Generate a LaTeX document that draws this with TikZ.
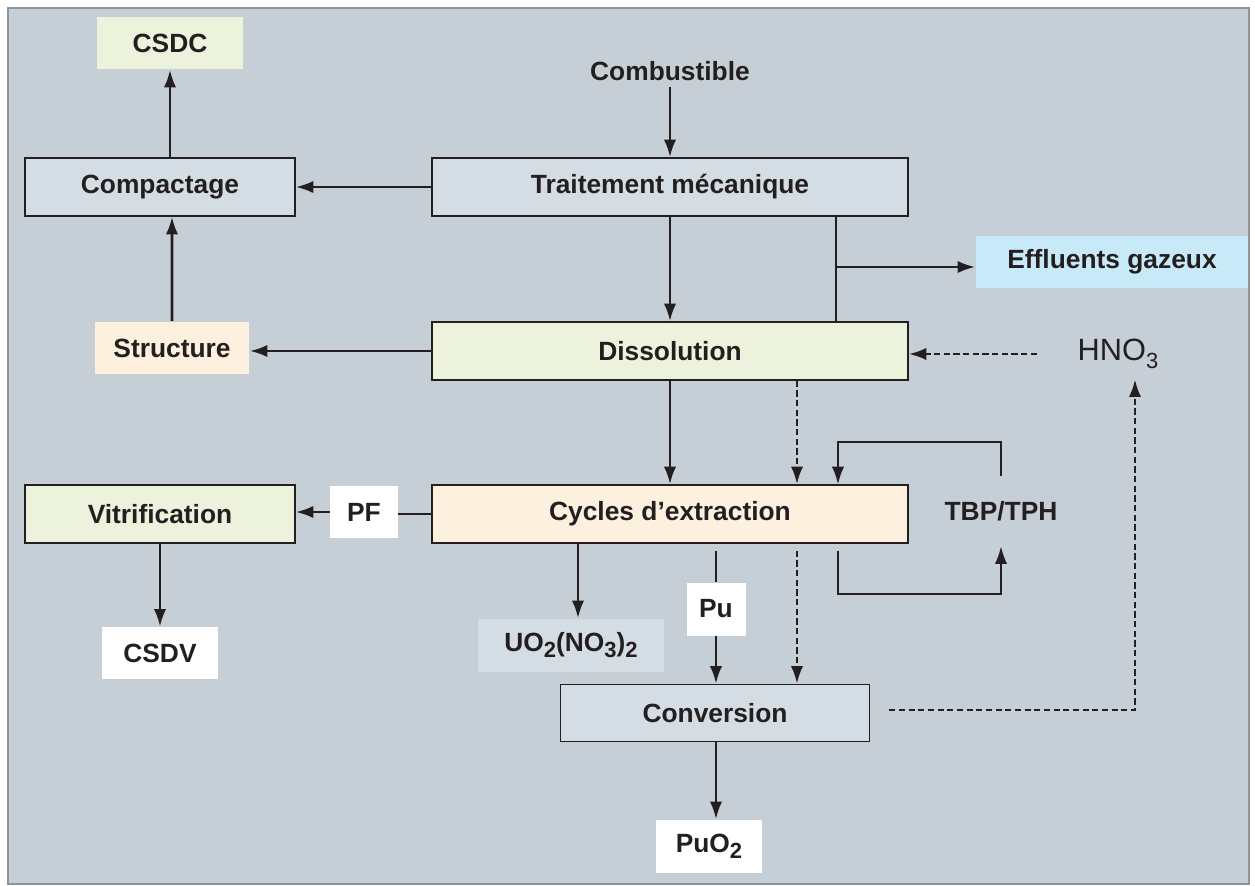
\documentclass[tikz,border=0pt]{standalone}
\usepackage{fontspec}
\setmainfont{Liberation Sans}
\usetikzlibrary{arrows.meta}

\definecolor{bgcol}{RGB}{199,207,214}
\definecolor{framecol}{RGB}{140,149,156}
\definecolor{linecol}{RGB}{35,31,32}
\definecolor{greycol}{RGB}{213,221,228}
\definecolor{greencol}{RGB}{236,242,220}
\definecolor{peachcol}{RGB}{253,240,222}
\definecolor{bluecol}{RGB}{200,234,248}

\newcommand{\chemsub}[1]{\raisebox{-0.45ex}{\fontsize{12.5}{12.5}\selectfont #1}}

\begin{document}
\begin{tikzpicture}[x=0.02cm, y=-0.02cm, >={Latex[length=10pt,width=7pt]},
    font=\fontsize{15}{18}\selectfont\bfseries, text=linecol,
    box/.style={draw=linecol, line width=0.9pt, minimum height=1.16cm, inner sep=0pt},
    tag/.style={minimum height=1.06cm, inner sep=0pt},
    flow/.style={line width=1.5pt, draw=linecol},
    dflow/.style={flow, dash pattern=on 3.5pt off 2pt},
    loop/.style={line width=1pt, draw=linecol}]

    % Background and frame
    \fill[white] (0,0) rectangle (1255,886);
    \draw[fill=bgcol, draw=framecol, line width=1pt] (8,8) rectangle (1249,884);

    % Define process boxes
    \node[box, fill=greycol, minimum width=5.4cm] (comp) at (160,187) {Compactage};
    \node[box, fill=greycol, minimum width=9.52cm] (trait) at (670,187) {Traitement mécanique};
    \node[box, fill=greencol, minimum width=9.52cm] (diss) at (670,351) {Dissolution};
    \node[box, fill=peachcol, minimum width=9.52cm] (cyc) at (670,514) {Cycles d’extraction};
    \node[box, fill=greencol, minimum width=5.4cm] (vitr) at (160,514) {Vitrification};
    \node[box, fill=greycol, minimum width=6.18cm, minimum height=1.14cm] (conv) at (715,713) {Conversion};

    % Define products and reagents
    \node[tag, fill=greencol, minimum width=2.92cm] (csdc) at (170,43) {CSDC};
    \node (comb) at (670,71) {Combustible};
    \node[tag, fill=bluecol, minimum width=5.46cm] (effl) at (1112,262) {Effluents gazeux};
    \node[tag, fill=peachcol, minimum width=3.1cm] (struc) at (172,348) {Structure};
    \node[font=\fontsize{17.5}{20}\selectfont, inner sep=6pt] (hno) at (1118,354) {HNO\chemsub{3}};
    \node[tag, fill=white, minimum width=1.36cm, minimum height=1.04cm] (pf) at (364,512) {PF};
    \node[minimum height=1.4cm, inner sep=0pt] (tbp) at (1001,511) {TBP/TPH};
    \node[tag, fill=white, minimum width=2.34cm, minimum height=1.04cm] (csdv) at (160,653) {CSDV};
    \node[tag, fill=greycol, minimum width=3.74cm] (uo) at (571,645) {UO\chemsub{2}(NO\chemsub{3})\chemsub{2}};
    \node[tag, fill=white, minimum width=1.18cm] (pu) at (716,609) {Pu};
    \node[tag, fill=white, minimum width=2.12cm] (puo) at (709,846) {PuO\chemsub{2}};

    % Bend points
    \coordinate (tap) at (836,267);
    \coordinate (dcol) at (797,0);
    \coordinate (ucol) at (578,0);
    \coordinate (topT) at (838,442);
    \coordinate (botT) at (838,594);
    \coordinate (ret) at (1135,710);

    % Main line
    \draw[flow, ->] (comb) -- (trait);
    \draw[flow, ->] (trait) -- (diss);
    \draw[flow, ->] (diss) -- (cyc);
    \draw[flow, ->] (trait) -- (comp);
    \draw[flow, ->] (comp.north -| csdc) -- (csdc);
    \draw[flow, ->] (diss.west) -- (diss.west -| struc.east);
    \draw[flow, ->] (struc.north -| comp) ++(12,0) -- ([xshift=0.24cm]comp.south);

    % Gaseous effluents
    \draw[flow] (trait.south -| tap) -- (diss.north -| tap);
    \draw[flow, ->] (tap) -- (tap -| effl.west);

    % Nitric acid
    \draw[dflow, ->, shorten <=0.6cm] (hno.west) -- (hno.west -| diss.east);
    \draw[dflow, ->] (diss.south -| dcol) -- (cyc.north -| dcol);

    % Solvent loop
    \draw[loop, ->] (tbp.north) |- (topT) -- (topT |- cyc.north);
    \draw[loop, ->] ([yshift=-0.14cm]cyc.south -| botT) -- (botT) -| (tbp.south);

    % Outputs of extraction
    \draw[flow] (cyc.west) -- (cyc.west -| pf.east);
    \draw[flow, ->] (pf.west) -- (pf.west -| vitr.east);
    \draw[flow, ->] (vitr) -- (csdv);
    \draw[flow, ->] (cyc.south -| ucol) -- (uo.north -| ucol);
    \draw[flow] ([yshift=-0.14cm]cyc.south -| pu) -- (pu);
    \draw[flow, ->] (pu) -- (pu |- conv.north);
    \draw[dflow, ->] ([yshift=-0.14cm]cyc.south -| dcol) -- (conv.north -| dcol);

    % Conversion
    \draw[flow, ->] (conv.south -| pu) -- (pu |- puo.north);
    \draw[dflow, ->, shorten <=0.38cm] (conv.east |- ret) -- (ret) -- (hno.south -| ret);
\end{tikzpicture}
\end{document}
